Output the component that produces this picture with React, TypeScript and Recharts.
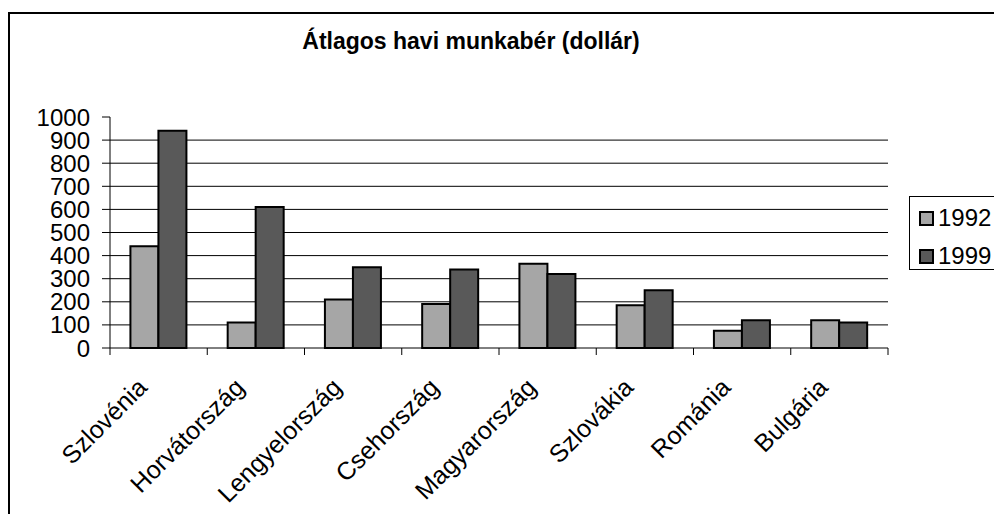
import { BarChart, Bar, XAxis, YAxis, CartesianGrid, Legend } from 'recharts'

const countries = [
  'Szlovénia', 'Horvátország', 'Lengyelország', 'Csehország',
  'Magyarország', 'Szlovákia', 'Románia', 'Bulgária',
]
const wage1992 = [440, 110, 210, 190, 365, 185, 75, 120]
const wage1999 = [940, 610, 350, 340, 320, 250, 120, 110]
const yTicks = [0, 100, 200, 300, 400, 500, 600, 700, 800, 900, 1000]

const SERIES = [
  { key: 'y1992', name: '1992', color: '#A6A6A6' },
  { key: 'y1999', name: '1999', color: '#595959' },
]

const FONT = "Arial, 'Liberation Sans', sans-serif"

const data = countries.map((c, i) => ({ country: c, y1992: wage1992[i], y1999: wage1999[i] }))

function CategoryTick(props: any) {
  const { x, y, payload, index, visibleTicksCount } = props
  const half = payload.offset ?? 48.6
  const tx = x - 10
  const ty = y + 41
  return (
    <g>
      <line x1={x - half} x2={x - half} y1={y} y2={y + 7} stroke="#000" />
      {index === visibleTicksCount - 1 && (
        <line x1={x + half} x2={x + half} y1={y} y2={y + 7} stroke="#000" />
      )}
      <text
        x={tx} y={ty} textAnchor="end" fontSize={25} fill="#000" fontFamily={FONT}
        transform={`rotate(-45 ${tx} ${ty})`}
      >
        {payload.value}
      </text>
    </g>
  )
}

function LegendBox() {
  return (
    <div style={{
      border: '1px solid #000', boxSizing: 'border-box', width: 93, height: 74,
      padding: '5px 0 0 9px', fontFamily: FONT, fontSize: 24, color: '#000',
    }}>
      {SERIES.map(s => (
        <div key={s.key} style={{ display: 'flex', alignItems: 'center', height: 32, marginBottom: 6 }}>
          <span style={{
            display: 'inline-block', width: 11, height: 11, background: s.color,
            border: '2px solid #000', marginRight: 4,
          }} />
          {s.name}
        </div>
      ))}
    </div>
  )
}

export default function App() {
  return (
    <div style={{ position: 'relative', width: 994, height: 506, fontFamily: FONT }}>
      <div style={{
        position: 'absolute', left: 0, top: 4, width: 994, height: 502,
        borderTop: '2px solid #000', borderLeft: '2px solid #000', boxSizing: 'border-box',
      }} />
      <div style={{
        position: 'absolute', left: 163, top: 22, width: 600, textAlign: 'center',
        fontSize: 23, fontWeight: 'bold', lineHeight: '23px', color: '#000',
      }}>
        Átlagos havi munkabér (dollár)
      </div>
      <BarChart
        width={994} height={506} data={data}
        margin={{ top: 109, right: 114, bottom: 0, left: 0 }}
        barCategoryGap="21%" barGap={0}
      >
        <CartesianGrid horizontal vertical={false} stroke="#000" horizontalValues={yTicks.slice(1, -1)} />
        <XAxis
          dataKey="country" height={166} interval={0}
          tickLine={false} tickSize={0} tickMargin={0}
          axisLine={{ stroke: '#000' }}
          tick={<CategoryTick />}
        />
        <YAxis
          width={102} domain={[0, 1000]} ticks={yTicks} interval={0}
          tickSize={8} tickMargin={12}
          axisLine={{ stroke: '#000' }} tickLine={{ stroke: '#000' }}
          tick={{ fontSize: 24, fill: '#000', fontFamily: FONT }}
        />
        <Legend
          layout="vertical" align="center" verticalAlign="middle"
          wrapperStyle={{ left: 901, top: 188, width: 93, height: 74 }}
          content={() => <LegendBox />}
        />
        {SERIES.map(s => (
          <Bar
            key={s.key} dataKey={s.key} name={s.name} fill={s.color}
            stroke="#000" strokeWidth={2} isAnimationActive={false}
          />
        ))}
      </BarChart>
    </div>
  )
}
